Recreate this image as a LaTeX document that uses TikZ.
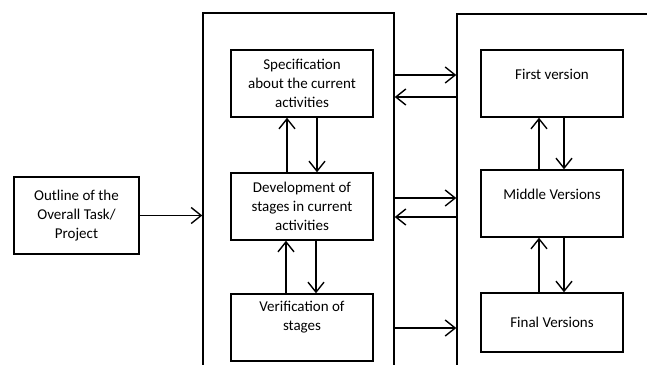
\documentclass[tikz,border=0pt]{standalone}
\usepackage{fontspec}
\setmainfont{Carlito}
\usetikzlibrary{arrows.meta}
\begin{document}
\begin{tikzpicture}[x=1pt,y=-1pt,
  container/.style={draw,line width=1.4pt,inner sep=0pt},
  box/.style={draw,line width=1.4pt,inner sep=0pt,align=center,minimum width=142pt,minimum height=67pt,font=\fontsize{15}{18.8}\selectfont},
  conn/.style={line width=1.4pt,-{Straight Barb[length=10pt,width=16pt,line width=1.4pt]}}]
\useasboundingbox (0,0) rectangle (647,364);
\clip (0,0) rectangle (647,364);
\fill[white] (0,0) rectangle (647,364);
% containers
\node[container,minimum width=191pt,minimum height=377pt] (L) at (298.5,201.5) {};
\node[container,minimum width=223pt,minimum height=376pt] (R) at (568.5,202) {};
% left column
\node[box] (spec) at (302,83.5) {Specification\\about the current\\activities};
\node[box] (dev) at (302,206.5) {Development of\\stages in current\\activities};
\node[box] (ver) at (302,327.5) {Verification of\\stages\\[4pt]\mbox{}};
% right column
\node[box] (first) at (552,83.5) {First version\\\mbox{}};
\node[box] (mid) at (552,203.5) {Middle Versions\\\mbox{}};
\node[box,minimum height=59pt] (final) at (552,322.5) {Final Versions};
% outline
\node[box,minimum width=125pt,minimum height=77pt] (outline) at (76.5,215.5) {Outline of the\\Overall Task/\\Project};
% connectors
\draw[conn] (outline.east) -- (outline.east -| L.west);
\coordinate (y1) at (0,75);
\coordinate (y2) at (0,97);
\coordinate (y3) at (0,198);
\coordinate (y4) at (0,217);
\coordinate (y5) at (0,328);
\draw[conn] (y1 -| L.east) -- (y1 -| R.west);
\draw[conn] (y2 -| R.west) -- (y2 -| L.east);
\draw[conn] (y3 -| L.east) -- (y3 -| R.west);
\draw[conn] (y4 -| R.west) -- (y4 -| L.east);
\draw[conn] (y5 -| L.east) -- (y5 -| R.west);
\draw[conn] ([xshift=-15pt]dev.north) -- ([xshift=-15pt]spec.south);
\draw[conn] ([xshift=15pt]spec.south) -- ([xshift=15pt]dev.north);
\draw[conn] ([xshift=-16pt]ver.north) -- ([xshift=-16pt]dev.south);
\draw[conn] ([xshift=14pt]dev.south) -- ([xshift=14pt]ver.north);
\draw[conn] ([xshift=-13pt]mid.north) -- ([xshift=-13pt]first.south);
\draw[conn] ([xshift=12pt]first.south) -- ([xshift=12pt]mid.north);
\draw[conn] ([xshift=-13pt]final.north) -- ([xshift=-13pt]mid.south);
\draw[conn] ([xshift=12pt]mid.south) -- ([xshift=12pt]final.north);
\end{tikzpicture}
\end{document}
